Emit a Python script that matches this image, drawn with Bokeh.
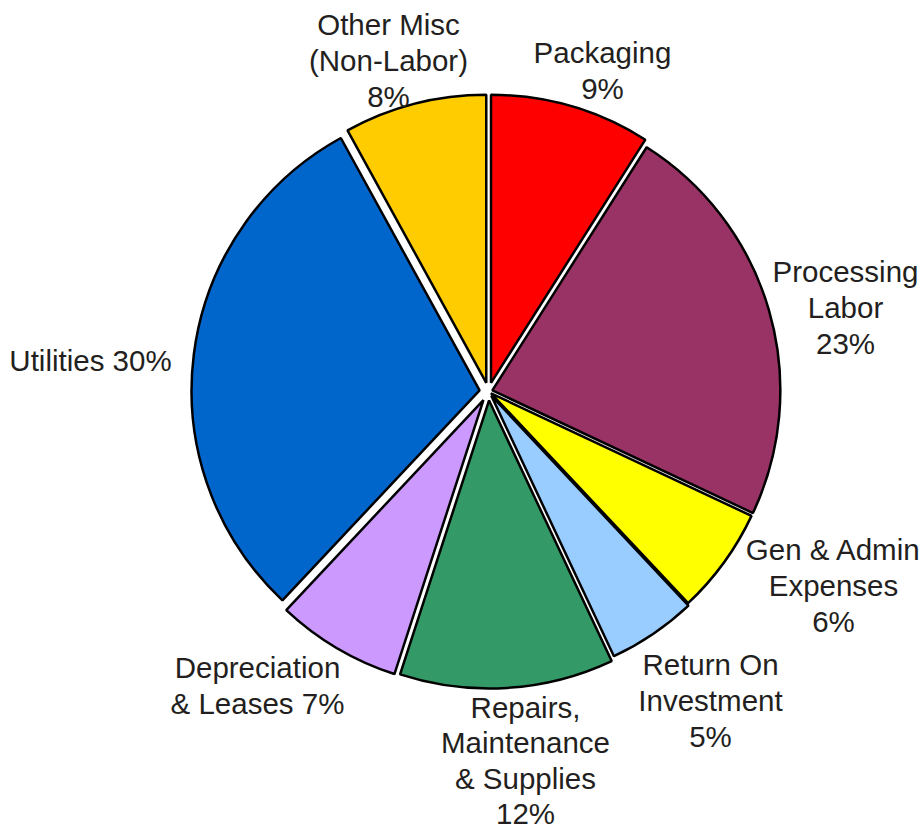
import math
from bokeh.plotting import figure
from bokeh.models import Range1d, ColumnDataSource
from bokeh.core.properties import value
from bokeh.embed import file_html
from bokeh.resources import INLINE

# ---- data ----
categories = ["Packaging", "Processing Labor", "Gen & Admin Expenses", "Return On Investment",
              "Repairs, Maintenance & Supplies", "Depreciation & Leases", "Utilities",
              "Other Misc (Non-Labor)"]
shares = [9, 23, 6, 5, 12, 7, 30, 8]
label_texts = ["Packaging\n9%", "Processing\nLabor\n23%", "Gen & Admin\nExpenses\n6%",
               "Return On\nInvestment\n5%", "Repairs,\nMaintenance\n& Supplies\n12%",
               "Depreciation\n& Leases 7%", "Utilities 30%", "Other Misc\n(Non-Labor)\n8%"]

# ---- style / layout ----
colors = ["#FF0000", "#993366", "#FFFF00", "#99CCFF", "#339966", "#CC99FF", "#0066CC", "#FFCC00"]
explode = [9, 4, 3, 5, 9, 10, 9, 9]
W, H = 923, 829
cx, cy = 488, H - 391      # pie centre (plot coords, y up)
R = 288
# label anchors in page pixels (x, y down)
label_px = [(602, 70), (845, 307), (833, 585), (710, 700), (525, 760), (257, 685), (90, 360), (388, 60)]

p = figure(width=W, height=H, output_backend="svg", toolbar_location=None,
           x_range=Range1d(0, W), y_range=Range1d(0, H), min_border=0)
p.axis.visible = False
p.grid.visible = False
p.outline_line_color = None
p.background_fill_color = "white"

total = float(sum(shares))
xs, ys, sa, ea = [], [], [], []
cum = 0.0
for v, e in zip(shares, explode):
    a0 = math.pi / 2 - 2 * math.pi * cum / total
    a1 = math.pi / 2 - 2 * math.pi * (cum + v) / total
    mid = (a0 + a1) / 2
    xs.append(cx + e * math.cos(mid))
    ys.append(cy + e * math.sin(mid))
    sa.append(a0)
    ea.append(a1)
    cum += v

src = ColumnDataSource(dict(x=xs, y=ys, start=sa, end=ea, color=colors, cat=categories))
p.wedge(x="x", y="y", radius=R, start_angle="start", end_angle="end", direction="clock",
        fill_color="color", line_color="black", line_width=2.5, source=src)

lx = [a for a, b in label_px]
ly = [H - b for a, b in label_px]
p.text(x=lx, y=ly, text=label_texts, text_align="center", text_baseline="middle",
       text_font=value("Liberation Sans"), text_font_size="29.5px", text_line_height=1.08,
       text_color="#231f20")

open("out.html", "w").write(file_html(p, INLINE))
